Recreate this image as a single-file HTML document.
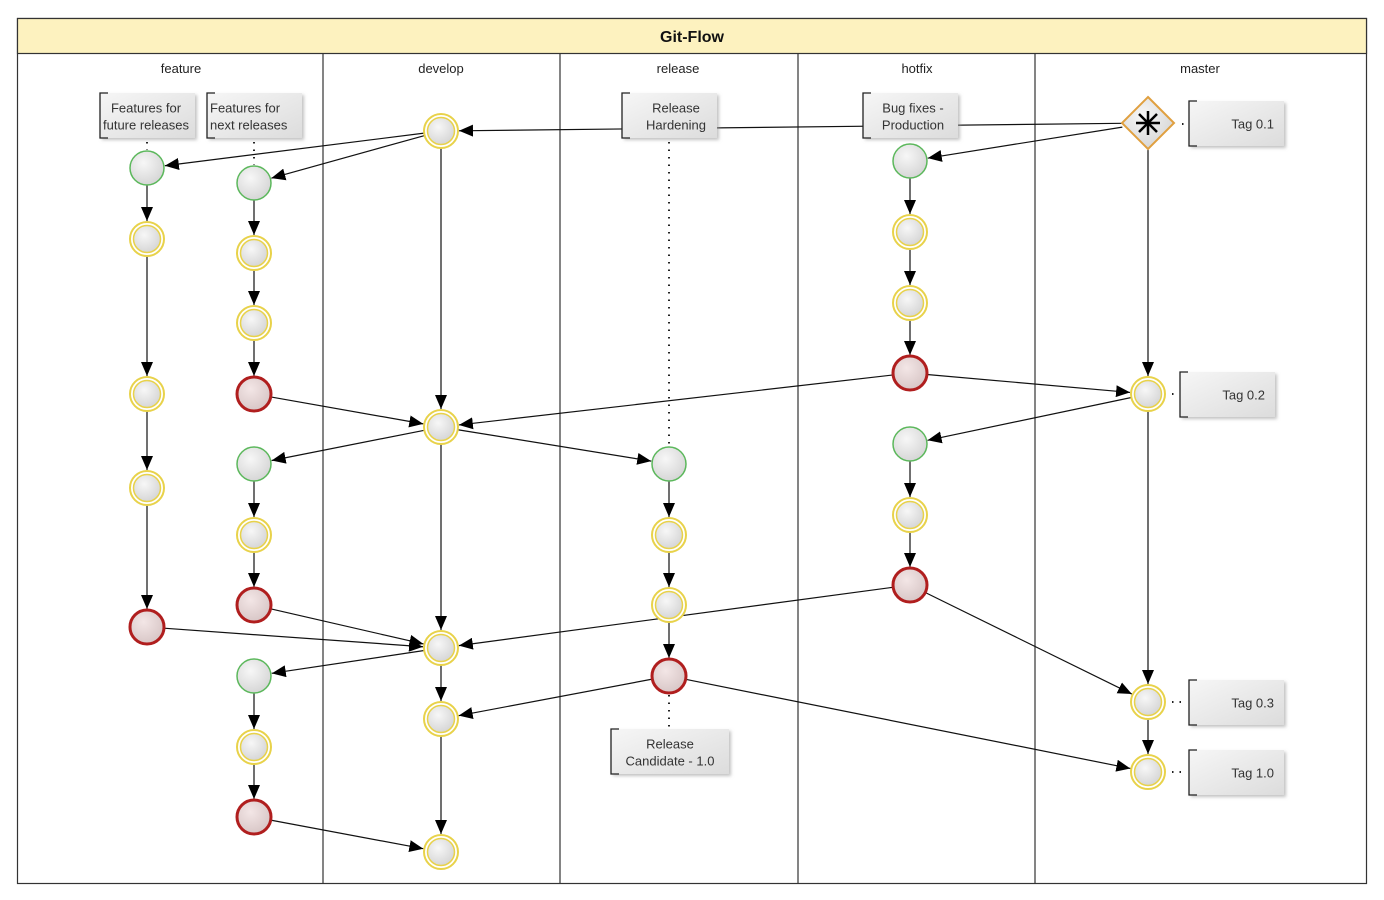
<!DOCTYPE html>
<html><head><meta charset="utf-8">
<style>
html,body{margin:0;padding:0;background:#fff;width:1384px;height:900px;overflow:hidden}
svg{display:block;font-family:"Liberation Sans",sans-serif}
</style></head><body>
<svg id="s" width="1384" height="900" viewBox="0 0 1384 900" xmlns="http://www.w3.org/2000/svg">
<defs>
<radialGradient id="g" cx="40%" cy="35%" r="70%"><stop offset="0" stop-color="#f7f7f7"/><stop offset="1" stop-color="#d4d4d4"/></radialGradient>
<radialGradient id="gr" cx="40%" cy="35%" r="70%"><stop offset="0" stop-color="#f3e6e6"/><stop offset="1" stop-color="#d6c4c4"/></radialGradient>
<linearGradient id="ng" x1="0" y1="0" x2="1" y2="1"><stop offset="0" stop-color="#f6f6f6"/><stop offset="1" stop-color="#dcdcdc"/></linearGradient>
<marker id="a" markerWidth="14" markerHeight="12" refX="14" refY="6" orient="auto" markerUnits="userSpaceOnUse"><path d="M0,0 L14,6 L0,12 z" fill="#000"/></marker>
<filter id="sh" x="-10%" y="-10%" width="130%" height="140%"><feDropShadow dx="2" dy="2" stdDeviation="1.5" flood-color="#999" flood-opacity="0.6"/></filter>
</defs>
<rect x="17.5" y="18.5" width="1349" height="865" fill="#fff" stroke="#333" stroke-width="1.2"/>
<rect x="17.5" y="18.5" width="1349" height="35" fill="#fdf2bf" stroke="#333" stroke-width="1.2"/>
<text x="692" y="42" text-anchor="middle" font-size="16" font-weight="bold" fill="#111">Git-Flow</text>
<g stroke="#333" stroke-width="1.2">
<line x1="323" y1="53" x2="323" y2="883"/><line x1="560" y1="53" x2="560" y2="883"/>
<line x1="798" y1="53" x2="798" y2="883"/><line x1="1035" y1="53" x2="1035" y2="883"/>
</g>
<g font-size="13" fill="#222" text-anchor="middle">
<text x="181" y="73">feature</text><text x="441" y="73">develop</text><text x="678" y="73">release</text><text x="917" y="73">hotfix</text><text x="1200" y="73">master</text>
</g>
<g id="edges" stroke="#111" stroke-width="1.2" fill="none"></g>
<g stroke="#222" stroke-width="2" stroke-dasharray="1.5,6" fill="none">
<line x1="669" y1="142" x2="669" y2="446"/><line x1="669" y1="695" x2="669" y2="728"/>
<line x1="147" y1="142" x2="147" y2="150"/><line x1="254" y1="142" x2="254" y2="165"/>
<line x1="1182" y1="124" x2="1186" y2="124"/><line x1="1172" y1="394" x2="1176" y2="394"/>
<line x1="1172" y1="702" x2="1186" y2="702"/><line x1="1172" y1="772" x2="1186" y2="772"/>
</g>
<g id="notes" font-size="13" fill="#333"></g>
<g id="nodes"></g>
<g transform="translate(1148,123)">
<path d="M0,-26 L26,0 L0,26 L-26,0 z" fill="url(#g)" stroke="#e0a040" stroke-width="2"/>
<g stroke="#000" stroke-width="2.5"><line x1="-12" y1="0" x2="12" y2="0"/><line x1="0" y1="-12" x2="0" y2="12"/><line x1="-9" y1="-9" x2="9" y2="9"/><line x1="-9" y1="9" x2="9" y2="-9"/></g>
</g>
</svg>
<script>
var NS="http://www.w3.org/2000/svg";
function el(t,a,p){var e=document.createElementNS(NS,t);for(var k in a)e.setAttribute(k,a[k]);document.getElementById(p).appendChild(e);return e;}
var N={
f1:[147,168,'g'],f2:[147,239,'y'],f3:[147,394,'y'],f4:[147,488,'y'],f5:[147,627,'r'],
a1:[254,183,'g'],a2:[254,253,'y'],a3:[254,323,'y'],a4:[254,394,'r'],
b1:[254,464,'g'],b2:[254,535,'y'],b3:[254,605,'r'],
c1:[254,676,'g'],c2:[254,747,'y'],c3:[254,817,'r'],
d1:[441,131,'y'],d2:[441,427,'y'],d3:[441,648,'y'],d4:[441,719,'y'],d5:[441,852,'y'],
r1:[669,464,'g'],r2:[669,535,'y'],r3:[669,605,'y'],r4:[669,676,'r'],
h1:[910,161,'g'],h2:[910,232,'y'],h3:[910,303,'y'],h4:[910,373,'r'],
h5:[910,444,'g'],h6:[910,515,'y'],h7:[910,585,'r'],
m0:[1148,123,'x'],m1:[1148,394,'y'],m2:[1148,702,'y'],m3:[1148,772,'y']};
var E=[['m0','d1'],['m0','h1'],['d1','f1'],['d1','a1'],['d1','d2'],
['f1','f2'],['f2','f3'],['f3','f4'],['f4','f5'],
['a1','a2'],['a2','a3'],['a3','a4'],['b1','b2'],['b2','b3'],['c1','c2'],['c2','c3'],
['h1','h2'],['h2','h3'],['h3','h4'],['h5','h6'],['h6','h7'],
['r1','r2'],['r2','r3'],['r3','r4'],
['a4','d2'],['h4','d2'],['h4','m1'],['m0','m1'],['m1','h5'],['d2','b1'],['d2','r1'],['d2','d3'],
['f5','d3'],['b3','d3'],['h7','d3'],['h7','m2'],['m1','m2'],['m2','m3'],
['d3','c1'],['d3','d4'],['r4','d4'],['r4','m3'],['d4','d5'],['c3','d5']];
E.forEach(function(e){var a=N[e[0]],b=N[e[1]];var dx=b[0]-a[0],dy=b[1]-a[1],L=Math.hypot(dx,dy);
var ra=a[2]=='x'?26:17,rb=18;
el('line',{x1:a[0]+dx/L*ra,y1:a[1]+dy/L*ra,x2:b[0]-dx/L*rb,y2:b[1]-dy/L*rb,'marker-end':'url(#a)'},'edges');});
var C={g:['#5cb85c',1.5,'url(#g)'],y:['#e8d24a',2,'url(#g)'],r:['#b01e1e',3,'url(#gr)']};
for(var k in N){var n=N[k];if(n[2]=='x')continue;var c=C[n[2]];
if(n[2]=='y'){el('circle',{cx:n[0],cy:n[1],r:17,fill:'#fff',stroke:c[0],'stroke-width':2},'nodes');
el('circle',{cx:n[0],cy:n[1],r:13.5,fill:c[2],stroke:c[0],'stroke-width':1.5},'nodes');}
else el('circle',{cx:n[0],cy:n[1],r:17,fill:c[2],stroke:c[0],'stroke-width':c[1]},'nodes');}
function note(x,y,w,h,lines,anchor,tx){
el('rect',{x:x,y:y,width:w,height:h,fill:'url(#ng)',filter:'url(#sh)'},'notes');
el('path',{d:'M'+(x+8)+','+y+' H'+x+' V'+(y+h)+' H'+(x+8),fill:'none',stroke:'#222','stroke-width':1.3},'notes');
lines.forEach(function(t,i){var e=el('text',{x:tx,y:y+(lines.length==1?h/2+5:h/2-3+i*17),'text-anchor':anchor},'notes');e.textContent=t;});}
note(100,93,95,45,['Features for','future releases'],'middle',146);
note(207,93,95,45,['Features for','next releases'],'start',210);
note(622,93,95,45,['Release','Hardening'],'middle',676);
note(863,93,95,45,['Bug fixes -','Production'],'middle',913);
note(611,729,118,45,['Release','Candidate - 1.0'],'middle',670);
note(1189,101,95,45,['Tag 0.1'],'end',1274);
note(1180,372,95,45,['Tag 0.2'],'end',1265);
note(1189,680,95,45,['Tag 0.3'],'end',1274);
note(1189,750,95,45,['Tag 1.0'],'end',1274);
</script>
</body></html>
